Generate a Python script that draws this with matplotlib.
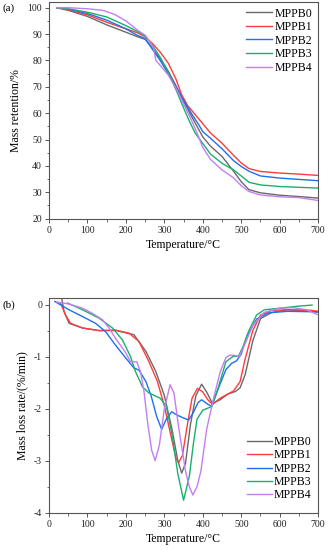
import matplotlib
matplotlib.use("Agg")
import matplotlib.pyplot as plt
from matplotlib.ticker import MultipleLocator

plt.rcParams['font.family'] = ['Liberation Serif', 'DejaVu Serif']
plt.rcParams['axes.unicode_minus'] = False

labels = ["MPPB0", "MPPB1", "MPPB2", "MPPB3", "MPPB4"]
colors = ["#6a6a6a", "#ff3b3b", "#1f6ff0", "#18b070", "#c47ef0"]

# (a) TGA mass retention (%)
tga_T0 = [20, 50, 100, 150, 200, 230, 250, 270, 290, 310, 330, 350, 370, 385, 400, 420, 450, 480, 500, 520, 550, 600, 650, 700]
tga_y0 = [100, 99, 96.7, 93.5, 90.7, 89, 88, 84.5, 80.5, 76, 70.5, 64.5, 59, 55, 51, 47.5, 43.6, 38, 34, 31, 29.8, 28.9, 28.4, 27.8]
tga_T1 = [20, 50, 100, 150, 200, 230, 250, 270, 290, 310, 330, 345, 360, 380, 400, 420, 450, 480, 500, 520, 550, 600, 650, 700]
tga_y1 = [100, 99.2, 97.3, 94.5, 92, 90.5, 89, 86.3, 83, 79, 73, 67, 63, 59.5, 56, 52.5, 48.6, 44, 41.1, 39, 37.9, 37.3, 36.9, 36.4]
tga_T2 = [20, 50, 100, 150, 200, 230, 250, 270, 290, 310, 330, 350, 370, 390, 400, 420, 450, 480, 500, 520, 550, 600, 650, 700]
tga_y2 = [100, 99.5, 97.8, 95.3, 92, 89.5, 88.3, 84, 79.8, 75, 70, 65, 60, 55.5, 53, 50.5, 46.5, 42, 39.8, 38, 36.2, 35.4, 34.9, 34.4]
tga_T3 = [20, 50, 100, 150, 200, 230, 250, 270, 290, 310, 330, 350, 365, 380, 400, 420, 450, 480, 500, 520, 550, 600, 650, 700]
tga_y3 = [100, 99.6, 98.3, 96.5, 93.2, 91, 89.3, 85.5, 81, 75.5, 69, 62, 57, 52.5, 48.5, 44.5, 41, 38.5, 36.2, 33.8, 32.8, 32.2, 31.9, 31.6]
tga_T4 = [20, 50, 100, 140, 170, 200, 230, 250, 265, 272, 278, 290, 310, 330, 350, 370, 385, 400, 420, 450, 470, 480, 500, 520, 550, 600, 650, 700]
tga_y4 = [100, 100, 99.6, 99, 97.5, 95, 91.5, 89.6, 86.5, 84.5, 80, 78, 74.5, 69.5, 63.5, 57.5, 52.5, 47, 42.5, 38.5, 36.5, 35.5, 32.5, 30.3, 29, 28.3, 28, 26.9]

# (b) DTG mass loss rate (%/min)
dtg_T0 = [25, 33, 39, 52, 87, 130, 175, 221, 252, 278, 300, 320, 335, 345, 355, 368, 382, 397, 410, 425, 445, 465, 485, 497, 510, 530, 550, 580, 620, 680, 700]
dtg_y0 = [0.2, 0.12, -0.13, -0.36, -0.45, -0.5, -0.5, -0.58, -0.9, -1.29, -1.75, -2.4, -3.0, -3.24, -3.05, -2.3, -1.75, -1.53, -1.68, -1.9, -1.83, -1.72, -1.67, -1.6, -1.35, -0.7, -0.27, -0.15, -0.1, -0.12, -0.15]
dtg_T1 = [30, 43, 56, 87, 130, 173, 208, 234, 260, 282, 300, 318, 330, 337, 347, 360, 372, 386, 400, 412, 425, 445, 465, 480, 497, 510, 530, 550, 580, 620, 680, 700]
dtg_y1 = [0.03, -0.2, -0.36, -0.45, -0.5, -0.49, -0.55, -0.71, -1.1, -1.48, -1.95, -2.55, -2.95, -3.04, -2.9, -2.3, -1.8, -1.61, -1.68, -1.82, -1.92, -1.8, -1.72, -1.66, -1.48, -1.05, -0.5, -0.2, -0.11, -0.1, -0.11, -0.13]
dtg_T2 = [15, 52, 87, 121, 147, 173, 200, 221, 234, 252, 265, 280, 293, 305, 319, 332, 350, 363, 375, 388, 397, 410, 423, 440, 460, 475, 488, 500, 515, 540, 570, 620, 700]
dtg_y2 = [0.06, -0.1, -0.23, -0.36, -0.52, -0.78, -1.03, -1.22, -1.26, -1.48, -1.74, -2.15, -2.4, -2.2, -2.06, -2.12, -2.18, -2.22, -2.08, -1.88, -1.83, -1.9, -1.96, -1.62, -1.25, -1.13, -1.08, -0.95, -0.6, -0.28, -0.16, -0.13, -0.14]
dtg_T3 = [48, 87, 130, 165, 191, 212, 225, 243, 260, 289, 305, 320, 335, 350, 365, 375, 385, 400, 423, 440, 460, 478, 493, 505, 520, 540, 560, 600, 650, 684]
dtg_y3 = [0.03, -0.1, -0.26, -0.45, -0.68, -1.0, -1.29, -1.58, -1.7, -1.8, -1.95, -2.5, -3.25, -3.76, -3.3, -2.7, -2.2, -2.03, -1.96, -1.6, -1.1, -1.0, -0.99, -0.8, -0.5, -0.2, -0.1, -0.07, -0.03, -0.01]
dtg_T4 = [20, 52, 87, 113, 139, 156, 173, 200, 212, 228, 238, 247, 257, 267, 276, 287, 300, 315, 325, 338, 355, 365, 374, 385, 395, 410, 428, 445, 460, 471, 485, 495, 510, 530, 560, 600, 636, 670, 697]
dtg_y4 = [0.05, 0.01, -0.07, -0.17, -0.29, -0.45, -0.65, -0.93, -1.1, -1.1, -1.29, -1.67, -2.3, -2.8, -3.0, -2.7, -2.0, -1.54, -1.7, -2.4, -3.2, -3.5, -3.66, -3.5, -3.2, -2.4, -1.8, -1.3, -1.02, -0.97, -0.98, -1.0, -0.75, -0.4, -0.15, -0.07, -0.06, -0.1, -0.19]

tga = [(tga_T0, tga_y0), (tga_T1, tga_y1), (tga_T2, tga_y2), (tga_T3, tga_y3), (tga_T4, tga_y4)]
dtg = [(dtg_T0, dtg_y0), (dtg_T1, dtg_y1), (dtg_T2, dtg_y2), (dtg_T3, dtg_y3), (dtg_T4, dtg_y4)]

fig = plt.figure(figsize=(3.29, 5.5), dpi=100)
ax1 = fig.add_axes([0.149, 0.6024, 0.818, 0.3946])
ax2 = fig.add_axes([0.149, 0.0678, 0.818, 0.3898])

spine_c = "#555555"
for ax in (ax1, ax2):
    for s in ax.spines.values():
        s.set_color(spine_c)
        s.set_linewidth(0.8)
    ax.tick_params(which='both', direction='out', colors=spine_c, labelcolor='#222222',
                   labelsize=7, top=False, right=False)
    ax.tick_params(which='major', length=3, width=0.7, pad=2)
    ax.tick_params(which='minor', length=1.8, width=0.6)
    ax.set_xlim(0, 700)
    ax.xaxis.set_major_locator(MultipleLocator(100))
    ax.xaxis.set_minor_locator(MultipleLocator(50))
    ax.set_xlabel("Temperature/°C", fontsize=8.5, labelpad=3)

for (T, y), c, lab in zip(tga, colors, labels):
    ax1.plot(T, y, color=c, lw=1.0, label=lab)
ax1.set_ylim(20, 102.3)
ax1.yaxis.set_major_locator(MultipleLocator(10))
ax1.yaxis.set_minor_locator(MultipleLocator(5))
ax1.set_ylabel("Mass retention/%", fontsize=8.5, labelpad=4)
ax1.legend(loc='upper right', frameon=False, fontsize=8.5, handlelength=2.2,
           handletextpad=0.2, labelspacing=0.13, borderaxespad=0.1,
           bbox_to_anchor=(1.0, 1.0))

for (T, y), c, lab in zip(dtg, colors, labels):
    ax2.plot(T, y, color=c, lw=1.0, label=lab)
ax2.set_ylim(-4, 0.12)
ax2.yaxis.set_major_locator(MultipleLocator(1))
ax2.yaxis.set_minor_locator(MultipleLocator(0.5))
ax2.set_ylabel("Mass loss rate/(%/min)", fontsize=8.5, labelpad=4)
ax2.legend(loc='lower right', frameon=False, fontsize=8.5, handlelength=2.1,
           handletextpad=0.15, labelspacing=0.11, borderaxespad=0.2,
           bbox_to_anchor=(1.0, 0.02))

fig.text(0.009, 0.985, "(a)", fontsize=8, va='center', ha='left')
fig.text(0.009, 0.445, "(b)", fontsize=8, va='center', ha='left')

fig.savefig("out.png", dpi=100)
